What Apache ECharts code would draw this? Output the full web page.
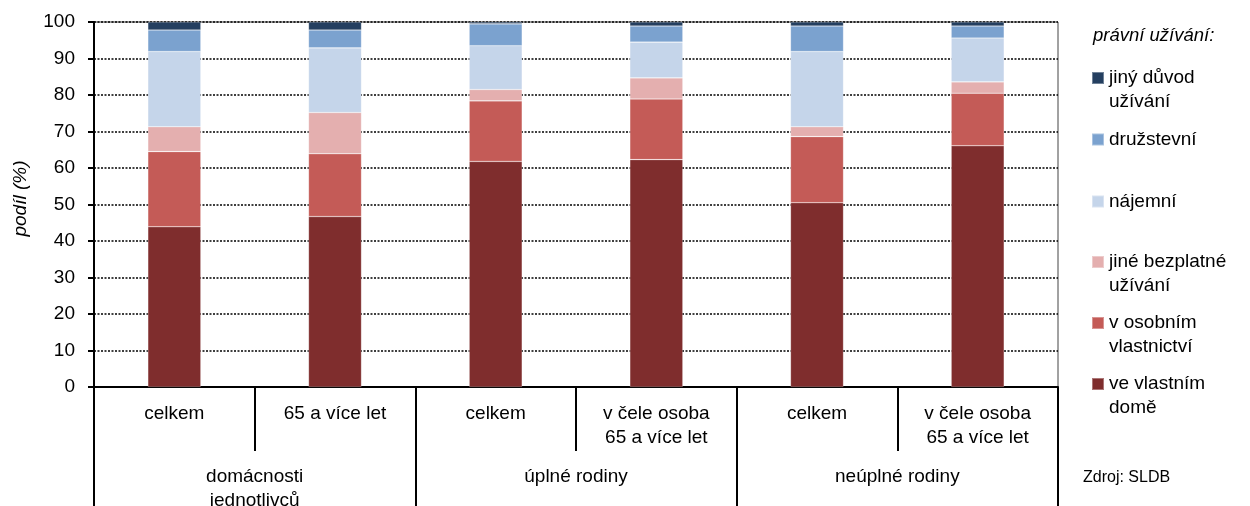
<!DOCTYPE html>
<html>
<head>
<meta charset="utf-8">
<script src="https://cdn.jsdelivr.net/npm/echarts@6/dist/echarts.min.js"></script>
<style>
html,body{margin:0;padding:0;background:#fff;}
#chart{width:1250px;height:506px;}
</style>
</head>
<body>
<div id="chart"></div>
<script>
var categories = ['celkem', '65 a více let', 'celkem', 'v čele osoba\n65 a více let', 'celkem', 'v čele osoba\n65 a více let'];
var groups = ['domácnosti\njednotlivců', 'úplné rodiny', 'neúplné rodiny'];
var yTicks = [0, 10, 20, 30, 40, 50, 60, 70, 80, 90, 100];

var seriesNames = ['ve vlastním\ndomě', 'v osobním\nvlastnictví', 'jiné bezplatné\nužívání', 'nájemní', 'družstevní', 'jiný důvod\nužívání'];
var veVlastnimDome    = [43.9, 46.7, 61.8, 62.3, 50.5, 66.1];
var vOsobnimVlast     = [20.6, 17.2, 16.6, 16.6, 18.1, 14.4];
var jineBezplatne     = [6.8, 11.3, 3.1, 5.8, 2.7, 3.1];
var najemni           = [20.6, 17.7, 12.0, 9.8, 20.6, 12.0];
var druzstevni        = [5.9, 4.9, 6.0, 4.4, 7.0, 3.3];
var jinyDuvod         = [2.2, 2.2, 0.5, 1.1, 1.1, 1.1];

var seriesData = [veVlastnimDome, vOsobnimVlast, jineBezplatne, najemni, druzstevni, jinyDuvod];
var colors = ['#7F2D2D', '#C45B57', '#E4AFAF', '#C5D5EA', '#7BA2CF', '#243F60'];

var FONT = '"Liberation Sans", Arial, sans-serif';

var series = seriesNames.map(function (n, i) {
  return {
    name: n,
    type: 'bar',
    stack: 'total',
    barWidth: 53,
    data: seriesData[i],
    itemStyle: { color: colors[i], borderColor: 'rgba(255,255,255,0.35)', borderWidth: 0.6 }
  };
});

// legend positions (top = last series)
var legendTops = [348, 287, 226, 189.5, 127.5, 42];
var legends = seriesNames.map(function (n, i) {
  return {
    data: [n],
    left: 1091,
    top: legendTops[i],
    padding: 0,
    itemWidth: 12,
    itemHeight: 12,
    itemGap: 0,
    icon: 'rect',
    formatter: function (name) { return name.indexOf('\n') >= 0 ? '\n' + name : name; },
    textStyle: { fontFamily: FONT, fontSize: 19, color: '#000', lineHeight: 24 }
  };
});

var chart = echarts.init(document.getElementById('chart'), null, { renderer: 'canvas' });
chart.setOption({
  animation: false,
  backgroundColor: '#fff',
  color: colors,
  title: [
    { text: 'právní užívání:', left: 1093, top: 25, padding: 0,
      textStyle: { fontFamily: FONT, fontSize: 18.5, fontStyle: 'italic', fontWeight: 'normal', color: '#000', lineHeight: 22 } },
    { text: 'Zdroj: SLDB', left: 1083, top: 468, padding: 0,
      textStyle: { fontFamily: FONT, fontSize: 16, fontWeight: 'normal', color: '#000', lineHeight: 19 } }
  ],
  legend: legends,
  grid: { left: 94, right: 192, top: 22, bottom: 119, outerBoundsMode: 'none', containLabel: false,
          show: true, borderColor: '#444', borderWidth: 1, backgroundColor: 'transparent' },
  xAxis: [
    {
      type: 'category',
      data: categories,
      position: 'bottom',
      axisLine: { show: true, lineStyle: { color: '#000', width: 2 } },
      axisTick: { show: true, interval: 0, length: 64, lineStyle: { color: '#000', width: 2 } },
      axisLabel: { interval: 0, margin: 15, fontFamily: FONT, fontSize: 19, color: '#000', lineHeight: 24 }
    },
    {
      type: 'category',
      data: groups,
      position: 'bottom',
      axisLine: { show: false },
      axisTick: { show: true, interval: 0, length: 119, lineStyle: { color: '#000', width: 2 } },
      axisLabel: { interval: 0, margin: 78, fontFamily: FONT, fontSize: 19, color: '#000', lineHeight: 24 }
    }
  ],
  yAxis: {
    type: 'value',
    min: yTicks[0],
    max: yTicks[yTicks.length - 1],
    interval: yTicks[1] - yTicks[0],
    name: 'podíl (%)',
    nameLocation: 'middle',
    nameGap: 64,
    nameTextStyle: { fontFamily: FONT, fontSize: 19, fontStyle: 'italic', color: '#000', padding: [0, 0, 0, 12] },
    axisLine: { show: true, lineStyle: { color: '#000', width: 2 } },
    axisTick: { show: true, length: 6, lineStyle: { color: '#000', width: 2 } },
    axisLabel: { margin: 19, fontFamily: FONT, fontSize: 19, color: '#000' },
    splitLine: { show: true, lineStyle: { color: '#000', width: 1.5, type: [2, 1.5] } }
  },
  series: series
});
</script>
</body>
</html>
